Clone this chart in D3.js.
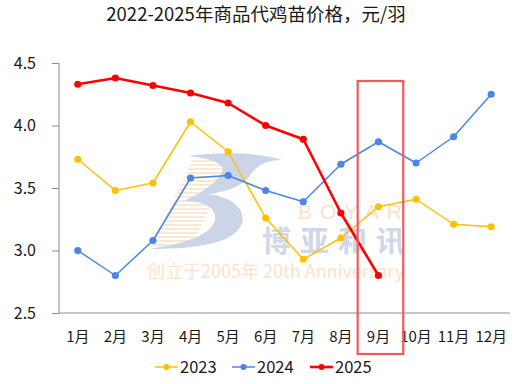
<!DOCTYPE html>
<html><head><meta charset="utf-8">
<script src="https://cdn.jsdelivr.net/npm/d3@7"></script>
<style>
html,body{margin:0;padding:0;background:#fff;}
svg{display:block;font-family:"Noto Sans CJK SC","Microsoft YaHei",sans-serif;}
</style></head>
<body>
<svg id="c" width="531" height="384"></svg>
<script>
const title = "2022-2025年商品代鸡苗价格，元/羽";
const months = ["1月","2月","3月","4月","5月","6月","7月","8月","9月","10月","11月","12月"];
const yTicks = [2.5, 3.0, 3.5, 4.0, 4.5];
const seriesNames = ["2023","2024","2025"];
const v2023 = [3.73,3.48,3.54,4.03,3.79,3.26,2.93,3.10,3.35,3.41,3.21,3.19];
const v2024 = [3.00,2.80,3.08,3.58,3.60,3.48,3.39,3.69,3.87,3.70,3.91,4.25];
const v2025 = [4.33,4.38,4.32,4.26,4.18,4.00,3.89,3.30,2.80];
const colors = ["#FFC000","#4A86E8","#FF0000"];
const widths = [1.5,1.5,2.6];
const highlightMonth = "9月";

const svg = d3.select("#c");
const M = {l:59, r:510, t:63, b:313};

// title
svg.append("text").attr("x",256).attr("y",21).attr("text-anchor","middle")
  .attr("font-size",18.5).attr("fill","#1a1a1a").text(title);

const x = d3.scaleBand().domain(months).range([M.l,M.r]);
const y = d3.scaleLinear().domain([2.5,4.5]).range([M.b,M.t]);

// watermark
const wm = svg.append("g");
const stripes = wm.append("g");
for(let i=0;i<22;i++){
  const yy = 161 + i*4;
  const x0 = 192 - i*1.9;
  stripes.append("line").attr("x1",x0).attr("x2",x0+40).attr("y1",yy).attr("y2",yy)
    .attr("stroke","#fae0c6").attr("stroke-width",1.5);
}
wm.append("path")
  .attr("d","M188,156 C225,151 262,153 282,160 C264,160 254,168 250,176 C240,188 224,192 208,194 C230,197 246,207 242,223 C236,241 205,249 150,249 C190,243 213,233 215,219 C217,207 201,201 184,201 C206,191 221,179 223,169 C221,161 205,158 188,156 Z")
  .attr("fill","#ccd5e8");
wm.append("text").attr("x",298).attr("y",219)
  .attr("font-size",21).attr("letter-spacing",8).attr("fill","#fbe2cb")
  .attr("font-family","Liberation Sans, Arial, sans-serif").text("BOYAR");
wm.append("text").attr("x",262).attr("y",252)
  .attr("font-size",29).attr("font-weight","bold").attr("letter-spacing",9).attr("fill","#cfd7e9").text("博亚和讯");
wm.append("text").attr("x",147).attr("y",278)
  .attr("font-size",18).attr("fill","#fbe2cb").text("创立于2005年 20th Anniversary");

// axes
svg.append("line").attr("x1",M.l).attr("x2",M.l).attr("y1",M.t).attr("y2",M.b).attr("stroke","#8c8c8c");
svg.append("line").attr("x1",M.l).attr("x2",M.r).attr("y1",M.b).attr("y2",M.b).attr("stroke","#8c8c8c");
const yAx = svg.append("g").attr("transform",`translate(${M.l},0)`)
  .call(d3.axisLeft(y).tickValues(yTicks).tickFormat(d3.format(".1f")).tickSize(7).tickPadding(16));
yAx.select(".domain").remove();
yAx.selectAll("line").attr("stroke","#8c8c8c");
yAx.selectAll("text").attr("font-size",16).attr("fill","#1a1a1a").attr("font-family","Noto Sans CJK SC, sans-serif");

const xAx = svg.append("g").attr("transform",`translate(0,${M.b})`)
  .call(d3.axisBottom(x).tickSize(0).tickPadding(18));
xAx.select(".domain").remove();
xAx.selectAll("text").attr("font-size",15).attr("fill","#1a1a1a").attr("font-family","Noto Sans CJK SC, sans-serif");

// series
const data = [v2023, v2024, v2025];
const line = d3.line().x((d,i)=>x(months[i])+x.bandwidth()/2).y(d=>y(d));
data.forEach((vals,k)=>{
  svg.append("path").datum(vals).attr("d",line).attr("fill","none")
    .attr("stroke",colors[k]).attr("stroke-width",widths[k]).attr("stroke-linejoin","round");
  svg.append("g").selectAll("circle").data(vals).join("circle")
    .attr("cx",(d,i)=>x(months[i])+x.bandwidth()/2).attr("cy",d=>y(d))
    .attr("r",3.6).attr("fill",colors[k]);
});

// highlight rectangle around 9月
const hx = x(highlightMonth);
svg.append("rect").attr("x",hx-2).attr("y",81).attr("width",x.bandwidth()+8).attr("height",273)
  .attr("fill","none").attr("stroke","#f25a5a").attr("stroke-width",2.2);

// legend
const legX = [155, 232, 310];
seriesNames.forEach((n,k)=>{
  const g = svg.append("g").attr("transform",`translate(${legX[k]},367)`);
  g.append("line").attr("x1",0).attr("x2",23).attr("y1",0).attr("y2",0)
    .attr("stroke",colors[k]).attr("stroke-width",widths[k]);
  g.append("circle").attr("cx",11.5).attr("cy",0).attr("r",3).attr("fill",colors[k]);
  g.append("text").attr("x",25).attr("y",6).attr("font-size",16.5).attr("fill","#1a1a1a").text(n);
});
</script>
</body></html>
